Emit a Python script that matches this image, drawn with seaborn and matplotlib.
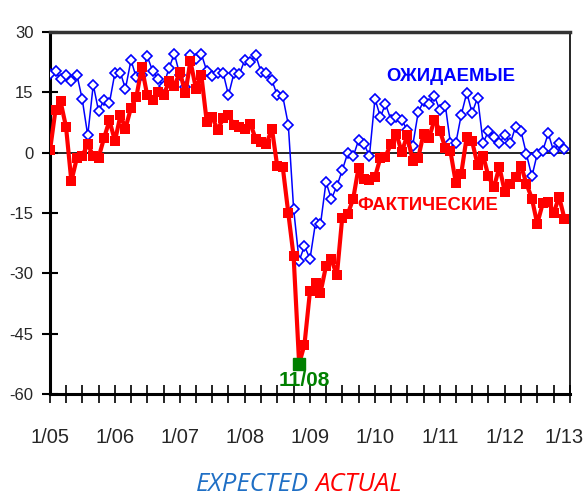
import numpy as np
import pandas as pd
import matplotlib
matplotlib.use("Agg")
import matplotlib.pyplot as plt
import matplotlib.dates as mdates
import matplotlib.transforms as mtransforms
import seaborn as sns

# monthly balance, 1/2005 - 12/2012
months = pd.date_range("2005-01-01", periods=96, freq="MS")

expected = [19.6, 20.2, 18.2, 19.4, 17.8, 19.4, 13.3, 4.3, 16.9, 10.3,
            13.2, 12.4, 19.9, 19.8, 15.9, 23.0, 18.7, 19.2, 24.0, 20.3,
            18.2, 16.6, 21.1, 24.6, 19.2, 16.3, 24.2, 23.4, 24.6, 20.3,
            19.0, 19.9, 19.8, 14.3, 19.8, 19.5, 23.1, 22.5, 24.4, 20.0,
            19.7, 18.0, 14.3, 14.0, 7.0, -14.0, -26.9, -23.2, -26.4, -17.4,
            -17.8, -7.3, -11.5, -8.3, -4.4, -0.1, -0.9, 3.1, 2.1, -0.8,
            13.4, 8.9, 12.1, 8.2, 8.8, 8.2, 5.6, 1.7, 10.0, 12.8,
            12.1, 14.1, 10.6, 11.6, 2.4, 2.5, 9.4, 14.9, 9.9, 13.7,
            2.4, 5.4, 4.0, 2.4, 4.4, 2.4, 6.4, 5.3, -0.3, -5.9,
            -0.3, 0.5, 4.8, 0.4, 2.5, 1.0]

actual = [0.6, 10.7, 12.8, 6.4, -7.1, -1.3, -0.9, 2.2, -0.9, -1.2,
          3.7, 8.0, 2.9, 9.3, 6.0, 11.2, 13.8, 21.3, 14.3, 13.0,
          15.1, 14.3, 17.7, 16.6, 20.0, 14.8, 22.8, 15.9, 19.4, 7.6,
          8.9, 5.7, 8.5, 9.3, 6.8, 6.4, 6.0, 7.2, 3.5, 2.6,
          2.1, 6.0, -3.4, -3.6, -15.0, -25.8, -52.5, -47.7, -34.4, -32.4,
          -34.8, -28.2, -26.5, -30.5, -16.2, -15.3, -11.4, -3.7, -6.5, -6.7,
          -6.1, -1.2, -1.0, 2.2, 4.7, 0.1, 4.3, -2.0, -1.4, 4.7,
          3.7, 8.1, 5.5, 1.1, 0.4, -7.6, -5.2, 4.0, 2.8, -3.0,
          -0.8, -5.9, -8.6, -3.5, -9.8, -7.8, -6.1, -3.2, -7.7, -11.4,
          -17.7, -12.6, -12.2, -15.0, -11.0, -16.4]

low_month = pd.Timestamp("2008-11-01")
low_label = "11/08"
year_labels = ["1/05", "1/06", "1/07", "1/08", "1/09", "1/10", "1/11", "1/12", "1/13"]
y_ticks = [30, 15, 0, -15, -30, -45, -60]

df = pd.DataFrame({"month": months, "expected": expected, "actual": actual})

sns.set_style("ticks")
plt.rcParams["font.family"] = ["Liberation Sans", "DejaVu Sans"]

fig = plt.figure(figsize=(5.87, 4.97), dpi=100)
ax = fig.add_axes([0.0852, 0.2072, 0.8858, 0.7284])

ax.axhline(0, color="black", lw=1.2, zorder=1)

sns.lineplot(data=df, x="month", y="expected", ax=ax, color="#0000ff", lw=1.1,
             marker="D", markersize=5.5, markerfacecolor="white",
             markeredgecolor="#0000ff", markeredgewidth=1.2, zorder=3)
sns.lineplot(data=df, x="month", y="actual", ax=ax, color="#ff0000", lw=3,
             marker="s", markersize=6.5, markeredgewidth=0, zorder=4)

low = df[df["month"] == low_month]
ax.plot(low["month"], low["actual"], "s", color="#008000", markersize=8, zorder=5)
ax.text(low_month + pd.DateOffset(days=30), low["actual"].iloc[0] - 1.8, low_label,
        color="#008000", fontsize=15, fontweight="bold", ha="center", va="top")

ax.text(0.771, 0.876, "ОЖИДАЕМЫЕ", transform=ax.transAxes, color="#0000ff",
        fontsize=13.3, fontweight="bold", ha="center", va="center")
ax.text(0.726, 0.522, "ФАКТИЧЕСКИЕ", transform=ax.transAxes, color="#ff0000",
        fontsize=13.3, fontweight="bold", ha="center", va="center")

ax.set_ylim(-60, 30)
ax.set_xlim(pd.Timestamp("2005-01-01"), pd.Timestamp("2013-01-01"))
ax.set_yticks(y_ticks)
ax.set_yticklabels([str(v) for v in y_ticks], fontsize=12)

years = pd.date_range("2005-01-01", "2013-01-01", freq="YS")
ax.set_xticks(years)
ax.set_xticklabels(year_labels, fontsize=14.5)
ax.xaxis.set_minor_locator(mdates.MonthLocator(bymonth=[4, 7, 10]))
ax.tick_params(axis="x", which="both", direction="inout", length=13, width=1.2,
               pad=18, color="black")
ax.tick_params(axis="y", direction="inout", length=12, width=1.5, pad=6, color="black")
ax.set_xlabel("")
ax.set_ylabel("")

# keep the last year label inside the picture
last = ax.get_xticklabels()[-1]
last.set_transform(last.get_transform() +
                   mtransforms.ScaledTranslation(-4 / 72, 0, fig.dpi_scale_trans))

for side in ["left", "bottom"]:
    ax.spines[side].set_color("black")
    ax.spines[side].set_linewidth(2.2)
ax.spines["top"].set_color("#333333")
ax.spines["top"].set_linewidth(2.5)
ax.spines["right"].set_color("black")
ax.spines["right"].set_linewidth(1.2)

fig.text(0.526, 0.012, "EXPECTED", color="#1f6fc5", fontsize=18.5, style="italic",
         ha="right", va="baseline", family=["Open Sans", "DejaVu Sans"])
fig.text(0.537, 0.012, "ACTUAL", color="#ff0000", fontsize=18.5, style="italic",
         ha="left", va="baseline", family=["Open Sans", "DejaVu Sans"])

fig.savefig("out.png", dpi=100)
